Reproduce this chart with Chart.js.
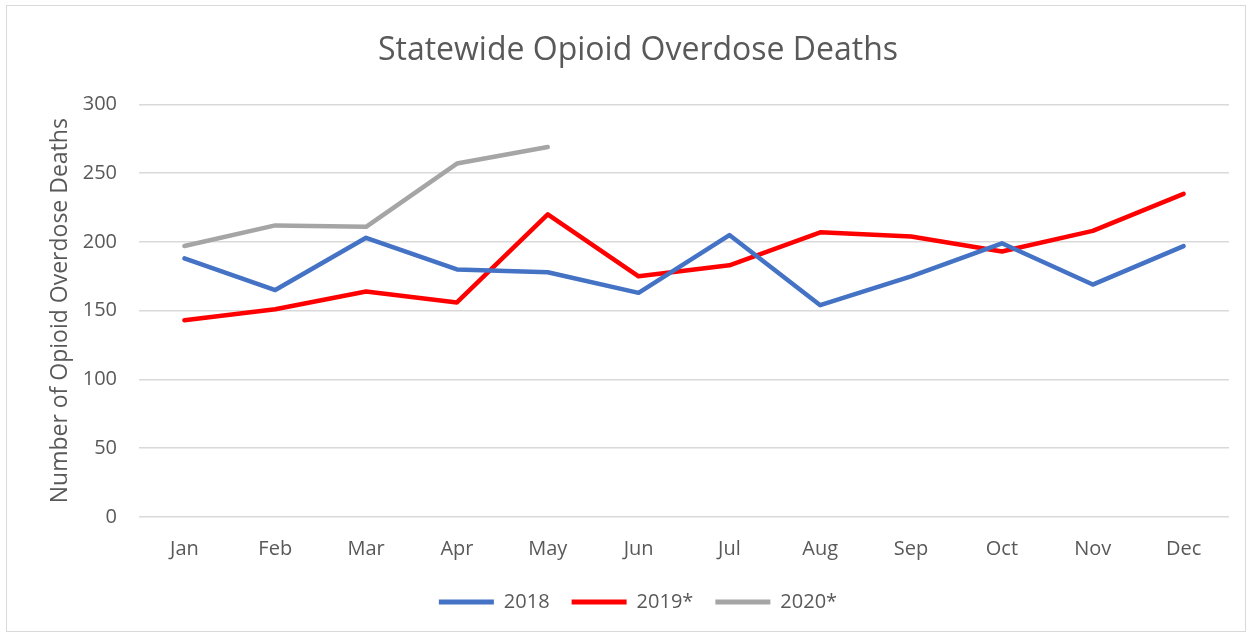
<!DOCTYPE html>
<html>
<head>
<meta charset="utf-8">
<script src="https://cdn.jsdelivr.net/npm/chart.js@4.4.1/dist/chart.umd.min.js"></script>
<style>
  html, body { margin: 0; padding: 0; background: #fff; }
  #wrap {
    position: absolute; left: 6px; top: 5px; width: 1240px; height: 627px;
    border: 1px solid #d9d9d9; box-sizing: border-box; background: #fff;
  }
</style>
</head>
<body>
<div id="wrap"><canvas id="chart"></canvas></div>
<script>
const months = ["Jan", "Feb", "Mar", "Apr", "May", "Jun", "Jul", "Aug", "Sep", "Oct", "Nov", "Dec"];
const deaths2018 = [188, 165, 203, 180, 178, 163, 205, 154, 175, 199, 169, 197];
const deaths2019 = [143, 151, 164, 156, 220, 175, 183, 207, 204, 193, 208, 235];
const deaths2020 = [197, 212, 211, 257, 269, null, null, null, null, null, null, null];
const yTicks = [0, 50, 100, 150, 200, 250, 300];

const textColor = "#595959";
const fontFamily = "'Open Sans', 'Liberation Sans', sans-serif";

function lineSet(label, data, color) {
  return {
    label: label,
    data: data,
    borderColor: color,
    backgroundColor: color,
    borderWidth: 4.5,
    pointRadius: 0,
    tension: 0,
    borderCapStyle: "round",
    borderJoinStyle: "round",
    spanGaps: false,
  };
}

const ctx = document.getElementById("chart").getContext("2d");
new Chart(ctx, {
  type: "line",
  data: {
    labels: months,
    datasets: [
      lineSet("2018", deaths2018, "#4472C4"),
      lineSet("2019*", deaths2019, "#FF0000"),
      lineSet("2020*", deaths2020, "#A5A5A5"),
    ],
  },
  options: {
    responsive: true,
    maintainAspectRatio: false,
    animation: false,
    layout: { padding: { left: 40, right: 16, top: 14, bottom: 9 } },
    plugins: {
      title: {
        display: true,
        text: "Statewide Opioid Overdose Deaths",
        color: textColor,
        font: { family: fontFamily, size: 32, weight: "normal" },
        padding: { top: 12, bottom: 34 },
      },
      legend: {
        position: "bottom",
        labels: {
          color: textColor,
          font: { family: fontFamily, size: 20 },
          boxWidth: 55,
          boxHeight: 5,
          padding: 22,
          generateLabels(chart) {
            return chart.data.datasets.map((ds, i) => ({
              text: ds.label,
              fillStyle: ds.borderColor,
              strokeStyle: ds.borderColor,
              lineWidth: 0,
              fontColor: textColor,
              datasetIndex: i,
            }));
          },
        },
      },
      tooltip: { enabled: false },
    },
    scales: {
      x: {
        offset: true,
        afterFit(axis) {
          // pull the legend a little closer to the month labels
          axis.height -= 11;
        },
        grid: { display: false, drawTicks: false },
        border: { display: false },
        ticks: { color: textColor, font: { family: fontFamily, size: 20 }, padding: 20 },
      },
      y: {
        min: 0,
        max: 300,
        afterBuildTicks(axis) {
          axis.ticks = yTicks.map(v => ({ value: v }));
        },
        afterFit(axis) {
          axis.width = 92;
        },
        grid: { color: "#d9d9d9", lineWidth: 1.5, drawTicks: false },
        border: { display: false },
        ticks: { color: textColor, font: { family: fontFamily, size: 20 }, padding: 22 },
        title: {
          display: true,
          text: "Number of Opioid Overdose Deaths",
          color: textColor,
          font: { family: fontFamily, size: 23 },
          padding: { top: 0, bottom: 0 },
        },
      },
    },
  },
});
</script>
</body>
</html>
